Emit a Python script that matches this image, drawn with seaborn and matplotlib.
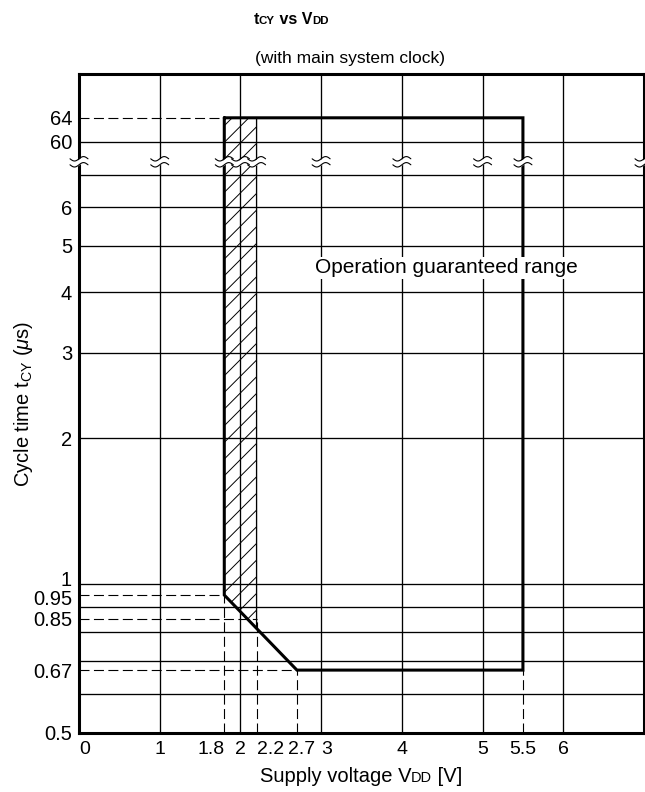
import numpy as np
import matplotlib
matplotlib.use("Agg")
import matplotlib.pyplot as plt
import matplotlib.transforms as mtransforms
from matplotlib.offsetbox import TextArea, HPacker, AnnotationBbox
import seaborn as sns

# ---------------------------------------------------------------- data
# Operation guaranteed range, traced clockwise from the upper-left corner
range_vdd = [1.8, 5.5, 5.5, 2.7, 1.8, 1.8]
range_tcy = [64, 64, 0.67, 0.67, 0.95, 64]

# Hatched band inside the range (1.8 V .. 2.2 V)
band_vdd = [1.8, 2.2]
band_top_tcy = 64

# Dashed guides: horizontal ones run from the axis to the point,
# vertical ones run from the bottom of the chart up to the point
hguide_vdd = [1.8, 1.8, 2.2, 2.7]
hguide_tcy = [64, 0.95, 0.85, 0.67]
vguide_vdd = [1.8, 2.2, 2.7, 5.5]
vguide_tcy = [0.95, 0.85, 0.67, 0.67]

# Ruled grid
grid_vdd = [1, 2, 3, 4, 5, 6]
grid_tcy = [0.6, 0.7, 0.8, 0.9, 1, 2, 3, 4, 5, 6, 7, 60]

# Axis ticks
xtick_vals = [0, 1, 1.8, 2, 2.2, 2.7, 3, 4, 5, 5.5, 6]
xtick_labels = ["0", "1", "1.8", "2", "2.2", "2.7", "3", "4", "5", "5.5", "6"]
ytick_vals = [0.5, 0.67, 0.85, 0.95, 1, 2, 3, 4, 5, 6, 60, 64]
ytick_labels = ["0.5", "0.67", "0.85", "0.95", "1", "2", "3", "4", "5", "6",
                "60", "64"]

# Vertical rules that carry a break mark
break_vdd = [0, 1, 1.8, 2, 2.2, 3, 4, 5, 5.5, 7]

# Texts with small-cap subscripts: (text, small?)
title_parts = [("t", False), ("CY", True), (" vs V", False), ("DD", True)]
xlabel_parts = [("Supply voltage V", False), ("DD", True), (" [V]", False)]

# ---------------------------------------------------------- broken y scale
# Logarithmic below 7 us, a compressed gap from 7 to 60 us, and an
# expanded stretch above 60 us.
_scale_t = np.log([1e-4, 0.5, 1.0, 7.0, 60.0, 64.0, 1e5])
_scale_u = np.array([-1831.0, 0.0, 149.0, 558.3, 591.3, 615.3, 3351.0])
BREAK_U = 571.3


def fwd(t):
    t = np.asarray(t, dtype=float)
    return np.interp(np.log(np.clip(t, 1e-9, None)), _scale_t, _scale_u)


def inv(u):
    return np.exp(np.interp(np.asarray(u, dtype=float), _scale_u, _scale_t))


# ---------------------------------------------------------------- style
sns.set_theme(style="white")
plt.rcParams["font.family"] = ["Liberation Sans", "DejaVu Sans"]
plt.rcParams["mathtext.fontset"] = "custom"
plt.rcParams["mathtext.rm"] = "Liberation Sans"
plt.rcParams["mathtext.it"] = "Liberation Sans:italic"
plt.rcParams["mathtext.bf"] = "Liberation Sans:bold"
plt.rcParams["mathtext.default"] = "regular"
plt.rcParams["hatch.linewidth"] = 0.7
plt.rcParams["hatch.color"] = "black"
plt.rcParams["text.color"] = "black"
plt.rcParams["axes.labelcolor"] = "black"
plt.rcParams["xtick.color"] = "black"
plt.rcParams["ytick.color"] = "black"

fig = plt.figure(figsize=(6.45, 7.92), dpi=100)
ax = fig.add_axes([79 / 645, 1 - 733 / 792, 565 / 645, 659 / 792])
ax.set_yscale("function", functions=(fwd, inv))
ax.set_xlim(0, 7)
ax.set_ylim(0.5, 72)

THIN = 0.95
THICK = 2.2
DASH = dict(color="black", lw=0.8, linestyle=(0, (9, 4)), zorder=2)

# grid
for v in grid_vdd:
    ax.axvline(v, color="black", lw=THIN, zorder=1)
for t in grid_tcy:
    ax.axhline(t, color="black", lw=THIN, zorder=1)

# hatched band, bounded below by the sloped edge of the range
diag_u = fwd([range_tcy[4], range_tcy[3]])
band_low = inv(np.interp(band_vdd, [range_vdd[4], range_vdd[3]], diag_u))
ax.fill_between(band_vdd, band_low, band_top_tcy, facecolor="none",
                edgecolor="black", hatch="//", lw=THIN, zorder=2)

# dashed guides
for v, t in zip(hguide_vdd, hguide_tcy):
    ax.plot([0, v], [t, t], **DASH)
for v, t in zip(vguide_vdd, vguide_tcy):
    ax.plot([v, v], [0.5, t], **DASH)

# operation guaranteed range outline
sns.lineplot(x=range_vdd, y=range_tcy, sort=False, estimator=None,
             color="black", lw=THICK, ax=ax, zorder=4)
ax.lines[-1].set_solid_joinstyle("miter")

ax.text(2.93, 4.5, "Operation guaranteed range", fontsize=15,
        ha="left", va="center", zorder=5,
        bbox=dict(facecolor="white", edgecolor="none", pad=1.0))

# break marks (two stacked tildes) on every vertical rule
t_brk = inv(BREAK_U)
s = np.linspace(-0.09, 0.09, 60)
wave = 0.022 * np.sin(s / 0.09 * np.pi)
for v in break_vdd:
    tr = fig.dpi_scale_trans + mtransforms.ScaledTranslation(
        v, t_brk, ax.transData)
    ax.fill_between(s, wave - 0.03, wave + 0.03, color="white",
                    transform=tr, zorder=6, clip_on=False, lw=0)
    ax.plot(s, wave + 0.03, color="black", lw=0.8, transform=tr,
            zorder=7, clip_on=False)
    ax.plot(s, wave - 0.03, color="black", lw=0.8, transform=tr,
            zorder=7, clip_on=False)

# axes, ticks and labels
for sp in ax.spines.values():
    sp.set_linewidth(THICK)
    sp.set_color("black")
    sp.set_zorder(5)
ax.grid(False)
ax.set_xticks(xtick_vals)
ax.set_xticklabels(xtick_labels)
ax.set_yticks(ytick_vals)
ax.set_yticklabels(ytick_labels)
ax.yaxis.set_minor_locator(matplotlib.ticker.NullLocator())
ax.xaxis.set_minor_locator(matplotlib.ticker.NullLocator())
ax.tick_params(axis="both", length=0, labelsize=14.5, labelcolor="black")
ax.tick_params(axis="x", pad=6, labelsize=14)
ax.tick_params(axis="y", pad=5)


def nudge(label, dx_px, dy_px):
    label.set_transform(label.get_transform() + mtransforms.ScaledTranslation(
        dx_px / 100, dy_px / 100, fig.dpi_scale_trans))


for lab in ax.get_xticklabels():
    txt = lab.get_text()
    if txt in ("0", "2.2", "3"):
        lab.set_ha("left")
    elif txt == "1.8":
        lab.set_ha("right")
    elif txt == "2.7":
        nudge(lab, 5, 0)
for lab in ax.get_yticklabels():
    txt = lab.get_text()
    if txt == "1":
        nudge(lab, 0, 6)
    elif txt == "0.95":
        nudge(lab, 0, -2)


def small_caps_label(parts, size, weight, xy):
    """Place a one-line text whose flagged parts are set smaller on the
    same baseline, centred on xy (figure fraction)."""
    boxes = [TextArea(txt, textprops=dict(fontsize=size * 0.72 if small
                                          else size, fontweight=weight,
                                          color="black"))
             for txt, small in parts]
    pack = HPacker(children=boxes, align="baseline", pad=0, sep=0)
    ab = AnnotationBbox(pack, xy, xycoords="figure fraction",
                        frameon=False, box_alignment=(0.5, 0.5), pad=0)
    fig.add_artist(ab)
    return ab


small_caps_label(xlabel_parts, 14.5, "normal", (361 / 645, 1 - 777 / 792))
ax.set_ylabel(r"Cycle time t$_{CY}$ ($\mathit{\mu}$s)", fontsize=14.5)
ax.yaxis.set_label_coords(-0.098, 0.5)
ax.yaxis.label.set_va("center")

small_caps_label(title_parts, 11.5, "bold", (291 / 645, 1 - 20 / 792))
fig.text(350 / 645, 1 - 58 / 792, "(with main system clock)", fontsize=12.5,
         ha="center", va="center")

fig.savefig("out.png", dpi=100)
